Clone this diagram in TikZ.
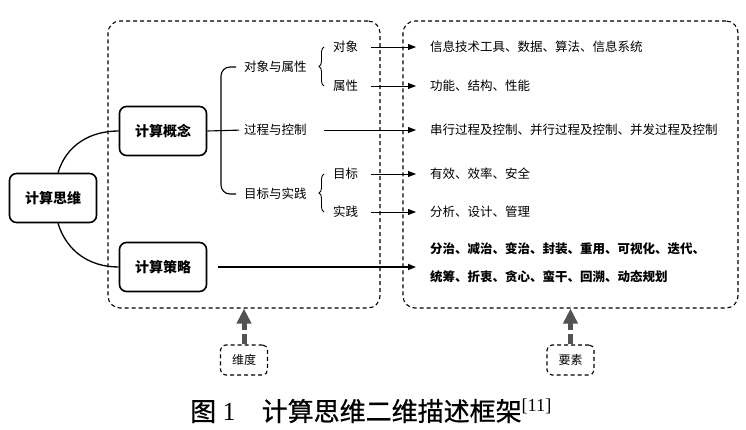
\documentclass[tikz,border=0pt]{standalone}
\usepackage{fontspec}
\setmainfont{Liberation Serif}
\newfontfamily\cjk{Noto Sans CJK SC}
\newfontfamily\cjkcap{Noto Sans CJK SC}[FakeBold=0.8]
\usetikzlibrary{arrows.meta,positioning,decorations.pathreplacing}

\tikzset{
  mainbox/.style={draw, line width=1.6pt, rounded corners=7pt, minimum width=87pt,
    minimum height=49pt, font=\cjk\bfseries\fontsize{14}{16}\selectfont},
  lbl/.style={inner sep=0pt, anchor=west, font=\cjk\fontsize{12.5}{14}\selectfont},
  bigbox/.style={draw, line width=1.1pt, dash pattern=on 4pt off 3pt, rounded corners=12pt},
  tagbox/.style={draw, line width=1.1pt, dash pattern=on 4pt off 3pt, rounded corners=5pt,
    minimum width=47pt, minimum height=30pt, font=\cjk\fontsize{12}{14}\selectfont},
  arr/.style={-{Triangle[length=8pt,width=6pt]}, line width=0.8pt, shorten >=14pt},
  uparr/.style={-{Triangle[length=15pt,width=14pt]}, line width=5pt, draw=black!68,
    dash pattern=on 10pt off 4pt}
}

\begin{document}
\begin{tikzpicture}[x=1pt,y=-1pt]
\useasboundingbox (0,0) rectangle (746,430);
% two frames
  \node[bigbox, minimum width=272pt, minimum height=287pt] (dimbox) at (244,164.5) {};
  \node[bigbox, minimum width=335pt, minimum height=287pt] (elembox) at (570.5,164.5) {};
% main boxes
  \node[mainbox] (ct) at (53,198) {计算思维};
  \node[mainbox] (cc) at (163,131) {计算概念};
  \node[mainbox] (cs) at (163,267) {计算策略};
  \draw[line width=1.3pt] ([xshift=5pt]ct.north) to[out=73,in=180] (cc.west);
  \draw[line width=1.3pt] ([xshift=5pt]ct.south) to[out=-73,in=180] (cs.west);
% concept branches
  \node[lbl] (oa) at (244,67) {对象与属性};
  \node[lbl] (pc) at (244,130) {过程与控制};
  \node[lbl] (ga) at (244,194) {目标与实践};
  \draw[line width=1.1pt, shorten >=5pt] (cc.east) -- (pc.west);
  \draw[line width=1.1pt, rounded corners=9pt] ([xshift=-8pt]oa.west) -| ([xshift=-23pt]pc.west)
    |- ([xshift=-8pt]ga.west);
  \node[lbl] (ob) at (333,47) {对象};
  \node[lbl] (pt) at (333,86) {属性};
  \node[lbl] (gl) at (333,174) {目标};
  \node[lbl] (pr) at (333,212) {实践};
  \draw[line width=0.9pt, decorate, decoration={brace,amplitude=5pt}]
    ([xshift=-9pt]pt.west) -- ([xshift=-9pt]ob.west);
  \draw[line width=0.9pt, decorate, decoration={brace,amplitude=5pt}]
    ([xshift=-9pt]pr.west) -- ([xshift=-9pt]gl.west);
% elements
  \node[lbl] (r1) at (430,47) {信息技术工具、数据、算法、信息系统};
  \node[lbl] (r2) at (430,86) {功能、结构、性能};
  \node[lbl] (r3) at (430,130) {串行过程及控制、并行过程及控制、并发过程及控制};
  \node[lbl] (r4) at (430,174) {有效、效率、安全};
  \node[lbl] (r5) at (430,212) {分析、设计、管理};
  \node[lbl, align=left, font=\cjk\bfseries\fontsize{12.5}{28}\selectfont] (r6) at (430,263)
    {分治、减治、变治、封装、重用、可视化、迭代、\\统筹、折衷、贪心、蛮干、回溯、动态规划};
  \draw[arr] ([xshift=13pt]ob.east) -- (r1.west);
  \draw[arr] ([xshift=13pt]pt.east) -- (r2.west);
  \draw[arr] ([xshift=17pt]pc.east) -- (r3.west);
  \draw[arr] ([xshift=13pt]gl.east) -- (r4.west);
  \draw[arr] ([xshift=13pt]pr.east) -- (r5.west);
  \draw[arr, line width=1.6pt] ([xshift=11pt]cs.east) -- (cs.east -| r6.west);
% tags
  \node[tagbox] (wd) at (244,360) {维度};
  \node[tagbox] (ys) at (570.5,360) {要素};
  \draw[uparr] (wd.north) -- (dimbox.south);
  \draw[uparr] (ys.north) -- (elembox.south);
% caption
  \node[font=\fontsize{26}{30}\selectfont] (cap) at (371,411)
    {{\cjkcap 图}~1\quad{\cjkcap 计算思维二维描述框架}\textsuperscript{[11]}};
\end{tikzpicture}
\end{document}
